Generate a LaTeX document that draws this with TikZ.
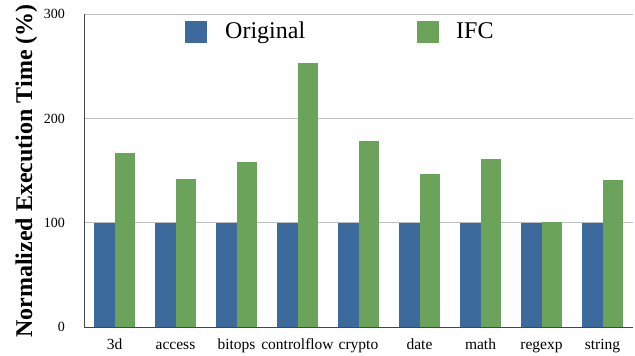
\documentclass[tikz,border=0pt]{standalone}
\usepackage{fontspec}
\setmainfont{Liberation Serif}
\definecolor{origblue}{RGB}{60,106,156}
\definecolor{ifcgreen}{RGB}{108,163,90}
\definecolor{gridgray}{RGB}{190,190,190}
\definecolor{axisgray}{RGB}{70,70,70}
\tikzset{
  orig bar/.style={fill=origblue},
  ifc bar/.style={fill=ifcgreen},
  grid line/.style={draw=gridgray, line width=1.1pt},
  axis line/.style={draw=axisgray, line width=1.2pt},
  tick label/.style={
    font=\fontsize{14}{16}\selectfont, anchor=east, inner sep=0pt
  },
  cat label/.style={
    font=\fontsize{15.5}{18}\selectfont, anchor=base, inner sep=0pt
  },
  legend text/.style={
    font=\fontsize{24}{28}\selectfont, anchor=base west, inner sep=0pt
  },
  legend box/.style={
    rectangle, inner sep=0pt, minimum size=22pt
  }
}

\begin{document}
\begin{tikzpicture}[x=1pt,y=1pt]
\useasboundingbox (0,0) rectangle (635,356);
% ------------------------------------------------
% plot area: origin at (84,28.7), 1.044pt per percent
% ------------------------------------------------
\begin{scope}[shift={(84,28.7)}]
  \foreach \v in {100,200,300}{
    \draw[grid line] (0,1.044*\v) -- (549,1.044*\v);
    \node[tick label] (tick\v) at (-19,1.044*\v) {\v};
  }
  \node[tick label] (tick0) at (-19,0) {0};

  % bars: index / name / IFC value
  \foreach \i/\name/\val in {0/3d/167, 1/access/142, 2/bitops/158.3,
      3/controlflow/253.2, 4/crypto/178.4, 5/date/146.8, 6/math/161.2,
      7/regexp/100.9, 8/string/141.1}{
    \pgfmathsetmacro{\cx}{30.5+61*\i}
    \fill[orig bar] (\cx-20.4,0) rectangle (\cx,1.044*100);
    \fill[ifc bar]  (\cx,0) rectangle (\cx+20.4,1.044*\val);
    \node[cat label] (cat\i) at (\cx,-22.7) {\name};
  }

  \coordinate (axtop) at (0,1.044*300);
  \coordinate (axorig) at (0,0);
  \coordinate (axright) at (549,0);
  \draw[axis line, line width=1pt] (axorig) -- (axtop);
  \draw[axis line] (axorig) -- (axright);
\end{scope}

% ------------------------------------------------
% legend
% ------------------------------------------------
\node[legend box, fill=origblue] (legorig) at (196,324) {};
\node[legend text] (legorigtext) at (225,317.7) {Original};
\node[legend box, fill=ifcgreen] (legifc) at (428,324) {};
\node[legend text] (legifctext) at (456,317.7) {IFC};

% ------------------------------------------------
% y axis title
% ------------------------------------------------
\node[font=\bfseries\fontsize{24}{28}\selectfont, rotate=90, anchor=base,
  inner sep=0pt] (ytitle) at (32,185) {Normalized Execution Time (\%)};
\end{tikzpicture}
\end{document}
